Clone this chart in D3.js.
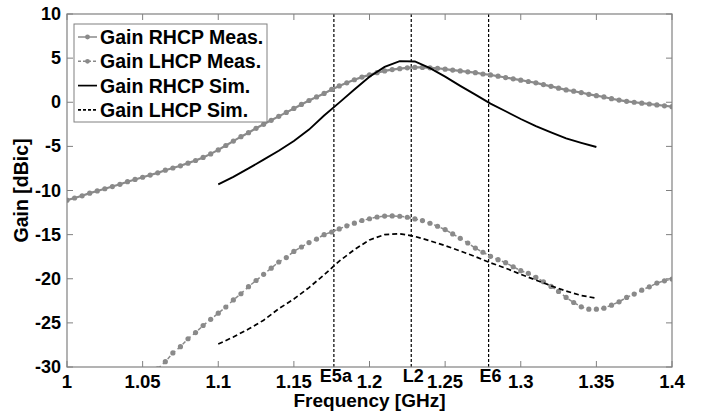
<!DOCTYPE html>
<html>
<head>
<meta charset="utf-8">
<script src="https://cdn.jsdelivr.net/npm/d3@7"></script>
<style>
  body { margin: 0; background: #fff; }
  svg { display: block; font-family: "Liberation Sans", Arial, sans-serif; font-weight: bold; }
</style>
</head>
<body>
<svg width="716" height="412"></svg>
<script>
// measured curves, sampled every 0.005 GHz
const measStep = 0.005;
const rhcpMeasStart = 1.0;
const rhcpMeas = [
  -11.1, -10.85, -10.6, -10.3, -10.05, -9.8, -9.55, -9.3, -9.0, -8.75,
  -8.5, -8.25, -8.0, -7.7, -7.45, -7.2, -6.9, -6.6, -6.25, -5.85,
  -5.4, -4.9, -4.4, -3.9, -3.45, -2.95, -2.5, -2.05, -1.6, -1.15,
  -0.7, -0.25, 0.2, 0.6, 1.0, 1.45, 1.85, 2.2, 2.55, 2.85,
  3.1, 3.35, 3.55, 3.7, 3.8, 3.9, 3.95, 3.95, 3.9, 3.85,
  3.75, 3.65, 3.55, 3.45, 3.35, 3.2, 3.1, 2.95, 2.8, 2.65,
  2.5, 2.35, 2.2, 2.0, 1.8, 1.6, 1.4, 1.25, 1.1, 0.9,
  0.75, 0.6, 0.4, 0.25, 0.1, 0.0, -0.1, -0.2, -0.3, -0.4,
  -0.5
];
const lhcpMeasStart = 1.06;
const lhcpMeas = [
  -30.2, -29.4, -28.4, -27.7, -26.8, -26.1, -25.3, -24.6, -23.9, -23.2,
  -22.4, -21.7, -20.9, -20.2, -19.5, -18.8, -18.1, -17.6, -16.9, -16.4,
  -15.9, -15.5, -15.0, -14.7, -14.35, -14.0, -13.7, -13.4, -13.2, -13.0,
  -12.9, -12.88, -12.92, -13.03, -13.22, -13.41, -13.71, -14.05, -14.43, -14.92,
  -15.42, -15.95, -16.52, -17.0, -17.46, -17.84, -18.18, -18.64, -19.09, -19.39,
  -19.85, -20.34, -20.87, -21.44, -22.12, -22.69, -23.18, -23.45, -23.45, -23.33,
  -22.99, -22.61, -22.12, -21.74, -21.29, -20.91, -20.49, -20.23, -20.04
];

// simulated curves, sampled every 0.01 GHz from 1.1 to 1.35
const simStep = 0.01;
const simStart = 1.1;
const rhcpSim = [
  -9.3, -8.45, -7.5, -6.5, -5.5, -4.4, -3.1, -1.5, -0.04, 1.44,
  2.9, 4.0, 4.66, 4.62, 3.86, 2.9, 1.86, 0.87, -0.15, -1.02,
  -1.9, -2.7, -3.4, -4.1, -4.6, -5.07
];
const lhcpSim = [
  -27.4, -26.6, -25.7, -24.7, -23.4, -22.3, -21.0, -19.55, -18.0, -16.7,
  -15.6, -15.0, -14.9, -15.2, -15.7, -16.25, -16.86, -17.5, -18.2, -18.8,
  -19.5, -20.15, -20.8, -21.4, -21.9, -22.2
];

const bandFreqs = [1.17645, 1.2276, 1.27875];
const bandNames = ["E5a", "L2", "E6"];

const xTicks = [1, 1.05, 1.1, 1.15, 1.2, 1.25, 1.3, 1.35, 1.4];
const yTicks = [-30, -25, -20, -15, -10, -5, 0, 5, 10];

const legendNames = ["Gain RHCP Meas.", "Gain LHCP Meas.", "Gain RHCP Sim.", "Gain LHCP Sim."];

const svg = d3.select("svg");
const pLeft = 67, pRight = 672, pTop = 14, pBottom = 367;

const x = d3.scaleLinear().domain([1, 1.4]).range([pLeft, pRight]);
const y = d3.scaleLinear().domain([-30, 10]).range([pBottom, pTop]);

const gray = "#8a8a8a";

svg.append("defs").append("clipPath").attr("id", "plot")
  .append("rect").attr("x", pLeft).attr("y", pTop)
  .attr("width", pRight - pLeft).attr("height", pBottom - pTop);

const toPts = (start, step, vals) => vals.map((v, i) => ({ f: start + i * step, g: v }));
const line = d3.line().x(d => x(d.f)).y(d => y(d.g));

// band markers: dashed lines over the full height, names just under the axis
bandFreqs.forEach((f, i) => {
  svg.append("line")
    .attr("x1", x(f)).attr("x2", x(f))
    .attr("y1", pTop).attr("y2", pBottom)
    .attr("stroke", "#000").attr("stroke-width", 1.2)
    .attr("stroke-dasharray", "3,2");
  svg.append("text")
    .attr("x", x(f) + 2).attr("y", 382)
    .attr("text-anchor", "middle")
    .attr("font-size", 18)
    .text(bandNames[i]);
});

const plot = svg.append("g").attr("clip-path", "url(#plot)");

const series = [
  { pts: toPts(rhcpMeasStart, measStep, rhcpMeas), color: gray, width: 2.2, dash: null, dots: true },
  { pts: toPts(lhcpMeasStart, measStep, lhcpMeas), color: gray, width: 1.5, dash: "4,3", dots: true },
  { pts: toPts(simStart, simStep, rhcpSim), color: "#000", width: 1.9, dash: null, dots: false },
  { pts: toPts(simStart, simStep, lhcpSim), color: "#000", width: 1.7, dash: "5,3", dots: false }
];

series.forEach(s => {
  plot.append("path")
    .attr("d", line(s.pts))
    .attr("fill", "none")
    .attr("stroke", s.color)
    .attr("stroke-width", s.width)
    .attr("stroke-dasharray", s.dash);
  if (s.dots) {
    plot.selectAll(null).data(s.pts).enter().append("circle")
      .attr("cx", d => x(d.f)).attr("cy", d => y(d.g))
      .attr("r", 2.6).attr("fill", s.color);
  }
});

// axes box with inward ticks
const axisColor = "#808080";
svg.append("rect")
  .attr("x", pLeft).attr("y", pTop)
  .attr("width", pRight - pLeft).attr("height", pBottom - pTop)
  .attr("fill", "none").attr("stroke", axisColor).attr("stroke-width", 1.2);

const tickLen = 6;
xTicks.forEach(t => {
  svg.append("line").attr("x1", x(t)).attr("x2", x(t))
    .attr("y1", pBottom).attr("y2", pBottom - tickLen).attr("stroke", axisColor);
  svg.append("line").attr("x1", x(t)).attr("x2", x(t))
    .attr("y1", pTop).attr("y2", pTop + tickLen).attr("stroke", axisColor);
});
yTicks.forEach(t => {
  svg.append("line").attr("x1", pLeft).attr("x2", pLeft + tickLen)
    .attr("y1", y(t)).attr("y2", y(t)).attr("stroke", axisColor);
  svg.append("line").attr("x1", pRight).attr("x2", pRight - tickLen)
    .attr("y1", y(t)).attr("y2", y(t)).attr("stroke", axisColor);
});

svg.append("g").selectAll("text").data(xTicks).enter().append("text")
  .attr("x", d => x(d)).attr("y", 388)
  .attr("text-anchor", "middle").attr("font-size", 18.5)
  .text(d => d3.format("")(d));

svg.append("g").selectAll("text").data(yTicks).enter().append("text")
  .attr("x", 61).attr("y", d => y(d) + 6)
  .attr("text-anchor", "end").attr("font-size", 18)
  .text(d => d);

svg.append("text")
  .attr("x", (pLeft + pRight) / 2).attr("y", 407)
  .attr("text-anchor", "middle").attr("font-size", 19)
  .text("Frequency [GHz]");

svg.append("text")
  .attr("transform", `translate(28,${(pTop + pBottom) / 2}) rotate(-90)`)
  .attr("text-anchor", "middle").attr("font-size", 19.5)
  .text("Gain [dBic]");

// legend
const legend = svg.append("g");
legend.append("rect")
  .attr("x", 74).attr("y", 24).attr("width", 193).attr("height", 98)
  .attr("fill", "#fff").attr("stroke", axisColor);
legendNames.forEach((name, i) => {
  const ly = 37 + i * 24.3;
  const s = series[i];
  legend.append("line")
    .attr("x1", 78).attr("x2", 97).attr("y1", ly).attr("y2", ly)
    .attr("stroke", s.color).attr("stroke-width", s.dots ? 1.5 : 1.7)
    .attr("stroke-dasharray", s.dash ? "3,2" : null);
  if (s.dots) {
    legend.append("circle").attr("cx", 87.5).attr("cy", ly).attr("r", 2.4).attr("fill", s.color);
  }
  legend.append("text")
    .attr("x", 100).attr("y", ly + 7)
    .attr("font-size", 19.5)
    .text(name);
});
</script>
</body>
</html>
